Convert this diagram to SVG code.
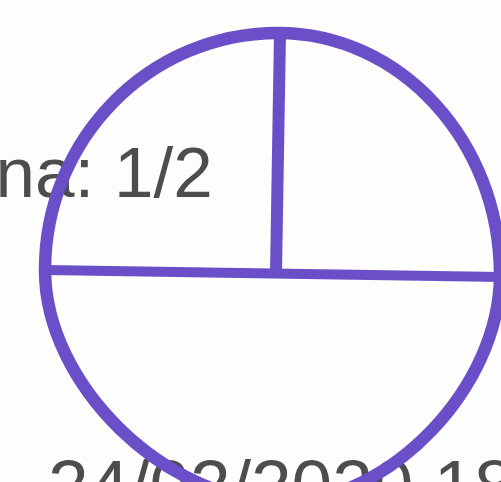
<svg xmlns="http://www.w3.org/2000/svg" width="501" height="482" viewBox="0 0 501 482">
  <style>
    .ink { fill: none; stroke: #6a4fc8; stroke-linecap: butt; stroke-linejoin: round; }
    .print { font-family: "Liberation Sans", Arial, sans-serif; fill: #4d4d4d; }
  </style>
  <rect x="0" y="0" width="501" height="482" fill="#fdfdfb"/>
  <g id="labels">
    <text id="label-fraction" class="print" x="-4.5" y="197" font-size="71">na: 1/2</text>
    <text id="label-date" class="print" x="48" y="511" font-size="73" fill="#5a5a5a">24/02/2020 18:</text>
  </g>
  <g id="circle">
    <path class="ink" stroke-width="12.5" d="M45,270 C45,139 149.4,33 278,33 C400.5,33 500,141.4 500,275 C500,387 390,502 283,502 C165.4,502 45,384.6 45,270 Z"/>
  </g>
  <g id="dividers">
    <line class="ink" stroke-width="10" x1="45" y1="270" x2="501" y2="277"/>
    <line class="ink" stroke-width="12" x1="280" y1="33" x2="276" y2="273"/>
  </g>
</svg>
